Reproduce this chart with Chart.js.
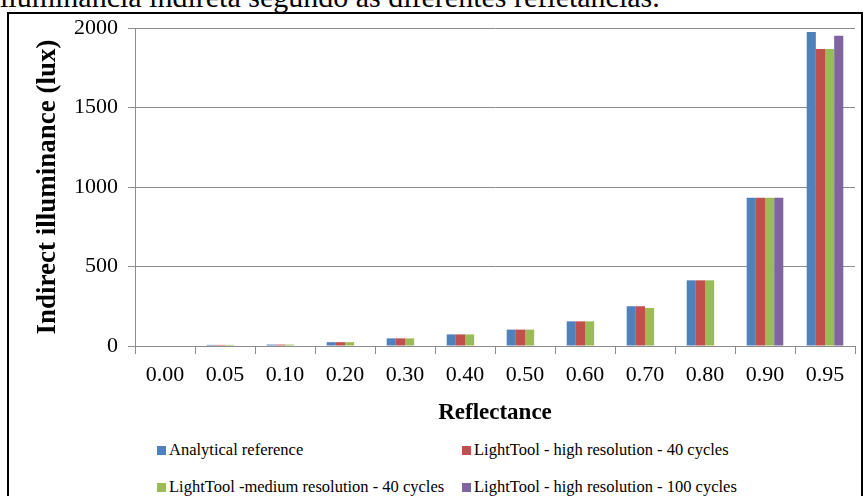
<!DOCTYPE html>
<html>

<head>
    <title>Indirect illuminance</title>
    <script src="https://cdn.jsdelivr.net/npm/chart.js"></script>
    <style>
        body {
            margin: 0;
            width: 866px;
            height: 496px;
            overflow: hidden;
            background: white;
            position: relative;
            font-family: "Liberation Serif", "Times New Roman", serif;
        }

        .caption {
            position: absolute;
            left: 0;
            top: -14px;
            font-size: 30px;
            line-height: 22px;
            white-space: nowrap;
        }

        .frame {
            position: absolute;
            left: 7px;
            top: 12px;
            width: 852px;
            height: 500px;
            border: 2px solid #000;
        }

        .chart-box {
            position: absolute;
            left: 0;
            top: 0;
            width: 866px;
            height: 440px;
        }

        .legend {
            position: absolute;
            left: 157px;
            top: 440px;
            display: grid;
            grid-template-columns: 305px 320px;
            row-gap: 17px;
            font-size: 16.5px;
        }

        .legend-item {
            display: flex;
            align-items: center;
            height: 20px;
            white-space: nowrap;
        }

        .legend-box {
            width: 9px;
            height: 9px;
            margin-right: 3px;
        }
    </style>
</head>

<body>
    <div class="caption">iluminância indireta segundo as diferentes refletâncias.</div>
    <div class="frame"></div>
    <div class="chart-box">
        <canvas id="illumChart" width="866" height="440"></canvas>
    </div>
    <div class="legend" id="legend"></div>

    <script>
        const reflectance = ['0.00', '0.05', '0.10', '0.20', '0.30', '0.40', '0.50', '0.60', '0.70', '0.80', '0.90', '0.95'];
        const analytical = [0, 7, 9, 24, 48, 73, 103, 155, 250, 413, 932, 1975];
        const highRes40 = [0, 7, 9, 24, 48, 73, 103, 155, 250, 413, 932, 1868];
        const mediumRes40 = [0, 7, 9, 24, 48, 73, 103, 155, 239, 413, 932, 1868];
        const highRes100 = [null, null, null, null, null, null, null, null, null, null, 932, 1952];
        const yTicks = [0, 500, 1000, 1500, 2000];

        const seriesNames = [
            'Analytical reference',
            'LightTool - high resolution - 40 cycles',
            'LightTool -medium resolution - 40 cycles',
            'LightTool - high resolution - 100 cycles'
        ];
        const seriesColors = ['#4f81bd', '#c0504d', '#9bbb59', '#8064a2'];
        const seriesData = [analytical, highRes40, mediumRes40, highRes100];

        const gridGray = '#8c8c8c';

        function buildLegend() {
            const legend = document.getElementById('legend');
            legend.innerHTML = seriesNames.map((name, i) => `
                <div class="legend-item">
                    <span class="legend-box" style="background:${seriesColors[i]}"></span>${name}
                </div>`).join('');
        }

        function createChart() {
            const ctx = document.getElementById('illumChart').getContext('2d');
            new Chart(ctx, {
                type: 'bar',
                data: {
                    labels: reflectance,
                    datasets: seriesNames.map((name, i) => ({
                        label: name,
                        data: seriesData[i],
                        backgroundColor: seriesColors[i],
                        borderWidth: 0,
                        barPercentage: 1,
                        categoryPercentage: 0.61
                    }))
                },
                options: {
                    responsive: false,
                    animation: false,
                    layout: {
                        padding: { top: 28, right: 11, bottom: 10, left: 0 }
                    },
                    plugins: {
                        legend: { display: false },
                        tooltip: { enabled: false }
                    },
                    scales: {
                        x: {
                            afterFit: scale => { scale.height = 84; },
                            grid: {
                                display: true,
                                offset: true,
                                drawOnChartArea: false,
                                color: gridGray,
                                tickLength: 8
                            },
                            border: { color: gridGray, width: 1 },
                            ticks: {
                                color: '#000',
                                padding: 8,
                                font: { family: 'Liberation Serif', size: 22 }
                            },
                            title: {
                                display: true,
                                text: 'Reflectance',
                                color: '#000',
                                padding: { top: 0, bottom: 3 },
                                font: { family: 'Liberation Serif', size: 23, weight: 'bold' }
                            }
                        },
                        y: {
                            min: 0,
                            max: 2000,
                            afterFit: scale => { scale.width = 135; },
                            afterBuildTicks: scale => {
                                scale.ticks = yTicks.map(v => ({ value: v }));
                            },
                            grid: {
                                color: gridGray,
                                tickLength: 7
                            },
                            border: { color: gridGray, width: 1 },
                            ticks: {
                                color: '#000',
                                padding: 10,
                                font: { family: 'Liberation Serif', size: 22 },
                                callback: value => String(value)
                            },
                            title: {
                                display: true,
                                text: 'Indirect illuminance (lux)',
                                color: '#000',
                                padding: { top: 32, bottom: 0 },
                                font: { family: 'Liberation Serif', size: 27, weight: 'bold' }
                            }
                        }
                    }
                }
            });
        }

        document.addEventListener('DOMContentLoaded', () => {
            buildLegend();
            createChart();
        });
    </script>
</body>

</html>
